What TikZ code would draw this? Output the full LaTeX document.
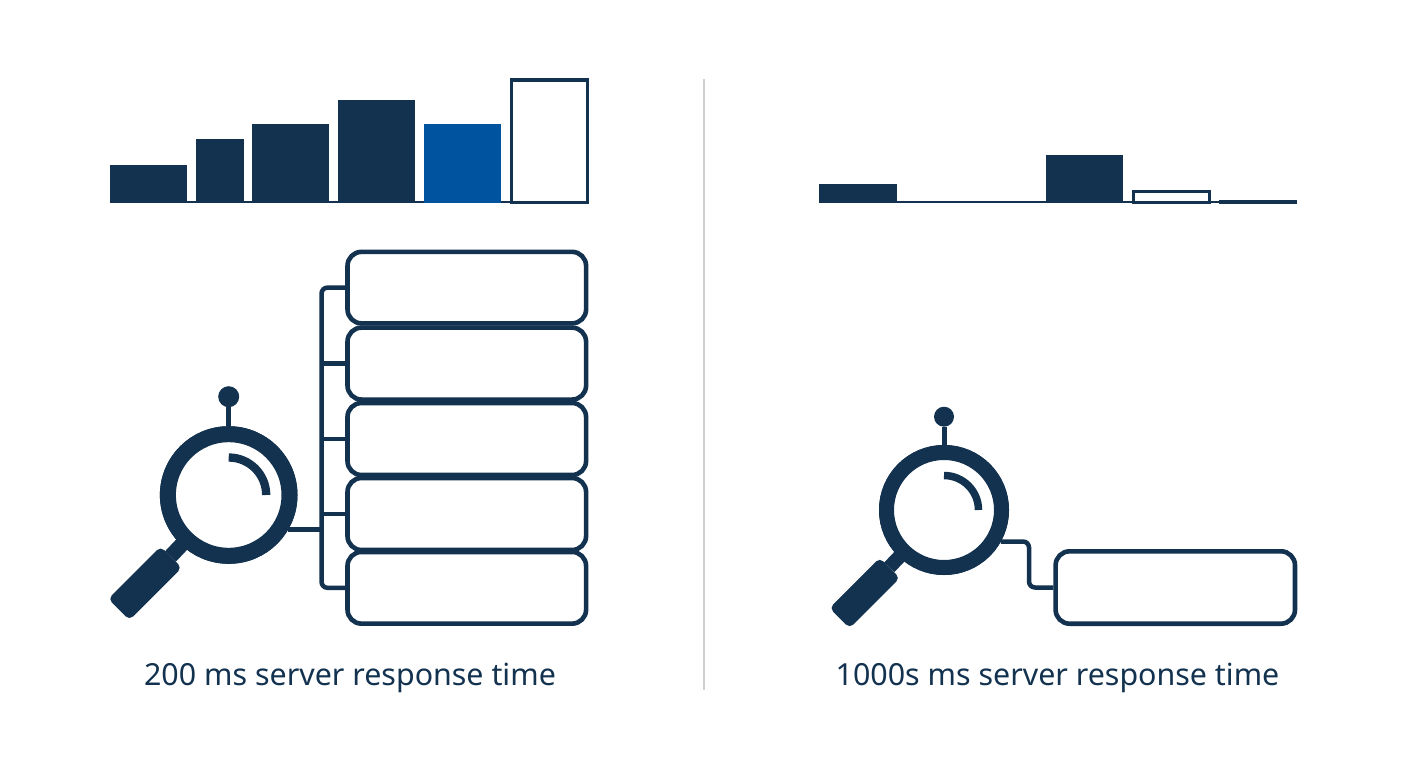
\documentclass[tikz,border=0pt]{standalone}
\usepackage{fontspec}
\setmainfont{Noto Sans}
\definecolor{navy}{HTML}{12324F}
\definecolor{midblue}{HTML}{00539F}
\definecolor{rulegrey}{HTML}{CFCFCF}
\begin{document}
\begin{tikzpicture}[
  x=1pt, y=-1pt,
  bar/.style={rectangle, fill=navy, inner sep=0pt, outer sep=0pt, anchor=south west, minimum height=#1},
  outlinebar/.style={rectangle, draw=navy, fill=white, line width=3pt, inner sep=0pt, anchor=south west, minimum height=#1},
  serverbox/.style={rectangle, draw=navy, fill=white, line width=4.6pt, rounded corners=14pt, inner sep=0pt, minimum width=238.6pt, minimum height=#1},
  lens/.style={circle, draw=navy, fill=white, inner sep=0pt},
  handle/.style={rectangle, fill=navy, rounded corners=5pt, inner sep=0pt, outer sep=0pt, rotate=45},
  knob/.style={circle, fill=navy, inner sep=0pt, outer sep=0pt},
  wire/.style={draw=navy, line width=4.5pt, rounded corners=6pt},
  caption/.style={font=\fontsize{30.4}{36}\selectfont, text=navy, inner sep=0pt}
]
  \useasboundingbox (0,0) rectangle (1408,768);
  \fill[white] (0,0) rectangle (1408,768);

  % left bars
  \coordinate (basela) at (110,202);
  \coordinate (baselb) at (588,202);
  \draw[navy, line width=2.5pt] (basela) -- (baselb);
  \node[bar=38pt, minimum width=77pt] (la) at (110,203) {};
  \node[bar=64pt, minimum width=47.5pt] (lb) at (196,203) {};
  \node[bar=79pt, minimum width=77pt] (lc) at (252,203) {};
  \node[bar=103pt, minimum width=76.5pt] (ld) at (338,203) {};
  \node[bar=79pt, minimum width=77pt, fill=midblue] (le) at (423.5,203) {};
  \node[outlinebar=122pt, minimum width=75.5pt] (lf) at (510,203.5) {};

  % right bars
  \coordinate (basera) at (819,202);
  \coordinate (baserb) at (1220,202);
  \draw[navy, line width=2.5pt] (basera) -- (baserb);
  \node[bar=19pt, minimum width=77.5pt] (ra) at (819,203) {};
  \node[bar=48pt, minimum width=77pt] (rb) at (1046,203) {};
  \node[outlinebar=11pt, minimum width=75.5pt] (rc) at (1132,203.5) {};
  \node[bar=3.5pt, minimum width=78pt] (rd) at (1219,203.5) {};

  % divider
  \coordinate (divtop) at (704,79);
  \coordinate (divbot) at (704,690);
  \draw[rulegrey, line width=1.5pt] (divtop) -- (divbot);

  % left stack
  \node[serverbox=71.5pt] (srva) at (466.8,287.6) {};
  \node[serverbox=71.9pt] (srvb) at (466.8,363.6) {};
  \node[serverbox=72pt] (srvc) at (466.8,439) {};
  \node[serverbox=72pt] (srvd) at (466.8,514) {};
  \node[serverbox=71.7pt] (srve) at (466.8,587.8) {};
  \coordinate (bus) at (321.5,439);

  % left magnifier
  \node[lens, line width=16pt, minimum size=121.6pt] (lensl) at (228.7,495) {};
  \node[knob, minimum size=21pt] (knobl) at (228.7,396.7) {};
  \node[handle, minimum width=74pt, minimum height=30pt] (handl) at (145,583.3) {};
  \draw[wire] (srva.west) -| (bus) |- (srve.west);
  \draw[wire] (srvb.west) -- (srvb.west -| bus);
  \draw[wire] (srvc.west) -- (srvc.west -| bus);
  \draw[wire] (srvd.west) -- (srvd.west -| bus);
  \draw[wire] (lensl.-30) -- (lensl.-30 -| bus);
  \draw[navy, line width=5.3pt] (knobl) -- (lensl);
  \draw[navy, line width=15pt, shorten <=-4pt] (lensl) -- (handl);
  \node[lens, line width=16pt, minimum size=121.6pt] at (lensl.center) {};
  \draw[navy, line width=8.3pt] (lensl.center) ++(0,-37.5) arc[start angle=-90, end angle=0, radius=37.5];

  % right magnifier
  \node[serverbox=72.4pt, minimum width=239.4pt] (srvr) at (1175.3,587.5) {};
  \node[lens, line width=15pt, minimum size=115pt] (lensr) at (944,510) {};
  \node[knob, minimum size=20pt] (knobr) at (944,416.7) {};
  \node[handle, minimum width=71pt, minimum height=28.5pt] (handr) at (864.7,593) {};
  \coordinate (jog) at (1029,565);
  \draw[wire] (lensr.-29) -| (jog) |- (srvr.west);
  \draw[navy, line width=5pt] (knobr) -- (lensr);
  \draw[navy, line width=14pt, shorten <=-4pt] (lensr) -- (handr);
  \node[lens, line width=15pt, minimum size=115pt] at (lensr.center) {};
  \draw[navy, line width=7.5pt] (lensr.center) ++(0,-34.5) arc[start angle=-90, end angle=0, radius=34.5];

  % captions
  \node[caption, anchor=base] (capl) at (350,685) {200 ms server response time};
  \node[caption, anchor=base] (capr) at (1057.5,685) {1000s ms server response time};
\end{tikzpicture}
\end{document}
